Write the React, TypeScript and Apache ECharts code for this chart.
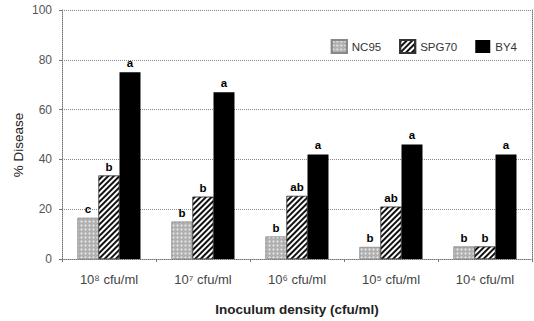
import React, { useEffect, useRef } from "react";
import * as echarts from "echarts";

const categories = ["10⁸ cfu/ml", "10⁷ cfu/ml", "10⁶ cfu/ml", "10⁵ cfu/ml", "10⁴ cfu/ml"];
const nc95 = [16.5, 15, 9, 4.8, 5];
const spg70 = [33.5, 25, 25.3, 21, 5];
const by4 = [75, 67, 42, 46, 42];
const nc95Letters = ["c", "b", "b", "b", "b"];
const spg70Letters = ["b", "b", "ab", "ab", "b"];
const by4Letters = ["a", "a", "a", "a", "a"];
const yTicks = [0, 20, 40, 60, 80, 100];

const FONT = "Liberation Sans, Arial, sans-serif";

export default function App() {
  const ref = useRef<HTMLDivElement>(null);
  useEffect(() => {
    if (!ref.current) return;
    const chart = echarts.init(ref.current, null, { renderer: "svg" });
    const labelStyle = (letters: string[]) => ({
      show: true,
      position: "top" as const,
      distance: 3,
      formatter: (p: any) => letters[p.dataIndex],
      color: "#000",
      fontSize: 11.5,
      fontWeight: "bold" as const,
      fontFamily: FONT,
    });
    chart.setOption({
      animation: false,
      backgroundColor: "#fff",
      textStyle: { fontFamily: FONT },
      grid: { left: 62, right: 2, top: 10, bottom: 54 },
      legend: {
        right: 12,
        top: 34,
        itemWidth: 15,
        itemHeight: 13,
        itemGap: 18,
        icon: "rect",
        textStyle: { fontSize: 11.5, color: "#333", fontFamily: FONT },
        data: ["NC95", "SPG70", "BY4"],
      },
      graphic: [
        {
          type: "text",
          x: 18,
          y: 145,
          rotation: Math.PI / 2,
          style: {
            text: "% Disease",
            fontSize: 13.5,
            fill: "#222",
            fontFamily: FONT,
            textAlign: "center",
            textVerticalAlign: "middle",
          },
        },
      ],
      xAxis: {
        type: "category",
        data: categories,
        axisLine: { lineStyle: { color: "#777", type: "dotted" } },
        axisTick: { show: true, length: 3, lineStyle: { color: "#777" } },
        axisLabel: { margin: 14, fontSize: 13, color: "#444", fontFamily: FONT },
        name: "Inoculum density (cfu/ml)",
        nameLocation: "middle",
        nameGap: 43,
        nameTextStyle: { fontSize: 13.5, fontWeight: "bold", color: "#222", fontFamily: FONT },
      },
      yAxis: [
        {
          type: "value",
          min: yTicks[0],
          max: yTicks[yTicks.length - 1],
          interval: 20,
          axisLine: { show: true, lineStyle: { color: "#777", type: "dotted" } },
          axisTick: { show: true, length: 3, lineStyle: { color: "#777" } },
          axisLabel: { margin: 10, fontSize: 12, color: "#555", fontFamily: FONT },
          splitLine: { show: true, lineStyle: { color: "#888", type: "dotted" } },
        },
        {
          type: "value",
          position: "right",
          min: 0,
          max: 100,
          interval: 20,
          axisLine: { show: true, lineStyle: { color: "#777", type: "dotted" } },
          axisTick: { show: false },
          axisLabel: { show: false },
          splitLine: { show: false },
        },
      ],
      series: [
        {
          name: "NC95",
          type: "bar",
          data: nc95,
          barGap: "0%",
          barCategoryGap: "33%",
          itemStyle: {
            color: "#b0b0b0",
            borderColor: "#888",
            borderWidth: 0.5,
            decal: {
              symbol: "circle",
              symbolSize: 0.7,
              color: "#e8e8e8",
              dashArrayX: [3, 1],
              dashArrayY: [3, 1],
              rotation: 0,
            },
          },
          label: labelStyle(nc95Letters),
        },
        {
          name: "SPG70",
          type: "bar",
          data: spg70,
          itemStyle: {
            color: "#ffffff",
            borderColor: "#333",
            borderWidth: 0.5,
            decal: {
              symbol: "rect",
              symbolSize: 1,
              color: "#111",
              dashArrayX: [1, 0],
              dashArrayY: [2, 2],
              rotation: -Math.PI / 4,
            },
          },
          label: labelStyle(spg70Letters),
        },
        {
          name: "BY4",
          type: "bar",
          data: by4,
          itemStyle: { color: "#000" },
          label: labelStyle(by4Letters),
        },
      ],
    });
    return () => chart.dispose();
  }, []);
  return <div ref={ref} style={{ width: 534, height: 321, position: "absolute", left: 0, top: 0 }} />;
}
